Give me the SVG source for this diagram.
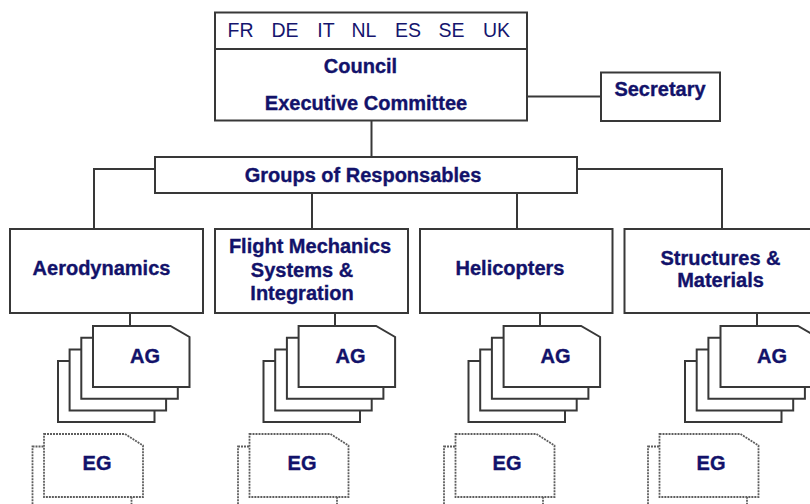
<svg xmlns="http://www.w3.org/2000/svg" xmlns:xlink="http://www.w3.org/1999/xlink" width="810" height="504" viewBox="0 0 810 504">
<style>
.box{fill:#fff;stroke:#383838;stroke-width:2}
.card{fill:#fff;stroke:#383838;stroke-width:2}
.eg{fill:#fff;stroke:#5e5e5e;stroke-width:1.8;stroke-dasharray:2 1}
.ln{fill:none;stroke:#383838;stroke-width:2}
.t{font-family:"Liberation Sans",Arial,sans-serif;font-weight:bold;font-size:20px;fill:#12126a;stroke:#12126a;stroke-width:0.35;text-anchor:middle}
.f{font-family:"Liberation Sans",Arial,sans-serif;font-size:19.5px;fill:#15156e;text-anchor:middle}
</style>
<defs>
<path id="ag" d="M0,0 H77.5 L96.5,11 V61 H0 Z"/>
<path id="egc" d="M0,0 H81 L99,11.5 V63 H0 Z"/>
</defs>
<rect width="810" height="504" fill="#fff"/>
<g id="connectors">
<path class="ln" d="M371.5,120 V157"/>
<path class="ln" d="M527,96.5 H601"/>
<path class="ln" d="M155,169 H94 V229"/>
<path class="ln" d="M577,169 H722 V229"/>
<path class="ln" d="M312,193 V229"/>
<path class="ln" d="M517,193 V229"/>
<path class="ln" d="M130,313 V326"/>
<path class="ln" d="M335,313 V326"/>
<path class="ln" d="M540,313 V326"/>
<path class="ln" d="M757,313 V326"/>
</g>
<g id="council">
<rect class="box" x="215" y="12.5" width="312" height="108"/>
<line class="ln" x1="215" y1="49" x2="527" y2="49"/>
<text class="f" x="240.5" y="36.5">FR</text>
<text class="f" x="285" y="36.5">DE</text>
<text class="f" x="326" y="36.5">IT</text>
<text class="f" x="364" y="36.5">NL</text>
<text class="f" x="408" y="36.5">ES</text>
<text class="f" x="451.5" y="36.5">SE</text>
<text class="f" x="496.5" y="36.5">UK</text>
<text class="t" x="360.5" y="73">Council</text>
<text class="t" x="366" y="110">Executive Committee</text>
</g>
<g id="secretary">
<rect class="box" x="601" y="72.5" width="119" height="48.5"/>
<text class="t" x="660" y="96">Secretary</text>
</g>
<g id="groups">
<rect class="box" x="155" y="157" width="422" height="36"/>
<text class="t" x="363" y="182">Groups of Responsables</text>
</g>
<g id="aerodynamics">
<rect class="box" x="10" y="229" width="193" height="84"/>
<text class="t" x="101.5" y="274.5">Aerodynamics</text>
</g>
<g id="flight-mechanics">
<rect class="box" x="215" y="229" width="193" height="84"/>
<text class="t" x="310" y="252.5">Flight Mechanics</text>
<text class="t" x="302" y="276.5">Systems &amp;</text>
<text class="t" x="302" y="299.5">Integration</text>
</g>
<g id="helicopters">
<rect class="box" x="420" y="229" width="192.5" height="84"/>
<text class="t" x="510" y="274.5">Helicopters</text>
</g>
<g id="structures">
<rect class="box" x="624.5" y="229" width="200" height="84"/>
<text class="t" x="720.5" y="265">Structures &amp;</text>
<text class="t" x="720.5" y="287">Materials</text>
</g>
<g id="ag-aerodynamics">
<use href="#ag" class="card" x="58" y="361"/>
<use href="#ag" class="card" x="69.6" y="349.4"/>
<use href="#ag" class="card" x="81.3" y="337.7"/>
<use href="#ag" class="card" x="93" y="326"/>
<text class="t" x="145" y="362.5">AG</text>
</g>
<g id="ag-flight-mechanics">
<use href="#ag" class="card" x="263.5" y="361"/>
<use href="#ag" class="card" x="275.2" y="349.4"/>
<use href="#ag" class="card" x="286.9" y="337.7"/>
<use href="#ag" class="card" x="298.6" y="326"/>
<text class="t" x="350.5" y="362.5">AG</text>
</g>
<g id="ag-helicopters">
<use href="#ag" class="card" x="468.5" y="361"/>
<use href="#ag" class="card" x="480.2" y="349.4"/>
<use href="#ag" class="card" x="491.9" y="337.7"/>
<use href="#ag" class="card" x="503.6" y="326"/>
<text class="t" x="555.5" y="362.5">AG</text>
</g>
<g id="ag-structures">
<use href="#ag" class="card" x="685" y="361"/>
<use href="#ag" class="card" x="696.7" y="349.4"/>
<use href="#ag" class="card" x="708.4" y="337.7"/>
<use href="#ag" class="card" x="720.5" y="326"/>
<text class="t" x="772" y="362.5">AG</text>
</g>
<g id="eg-aerodynamics">
<use href="#egc" class="eg" x="32.5" y="446.5"/>
<use href="#egc" class="eg" x="44" y="434"/>
<text class="t" x="97" y="469.5">EG</text>
</g>
<g id="eg-flight-mechanics">
<use href="#egc" class="eg" x="238" y="446.5"/>
<use href="#egc" class="eg" x="249.5" y="434"/>
<text class="t" x="302" y="469.5">EG</text>
</g>
<g id="eg-helicopters">
<use href="#egc" class="eg" x="444" y="446.5"/>
<use href="#egc" class="eg" x="455.5" y="434"/>
<text class="t" x="507" y="469.5">EG</text>
</g>
<g id="eg-structures">
<use href="#egc" class="eg" x="648" y="446.5"/>
<use href="#egc" class="eg" x="659.5" y="434"/>
<text class="t" x="711" y="469.5">EG</text>
</g>
</svg>
